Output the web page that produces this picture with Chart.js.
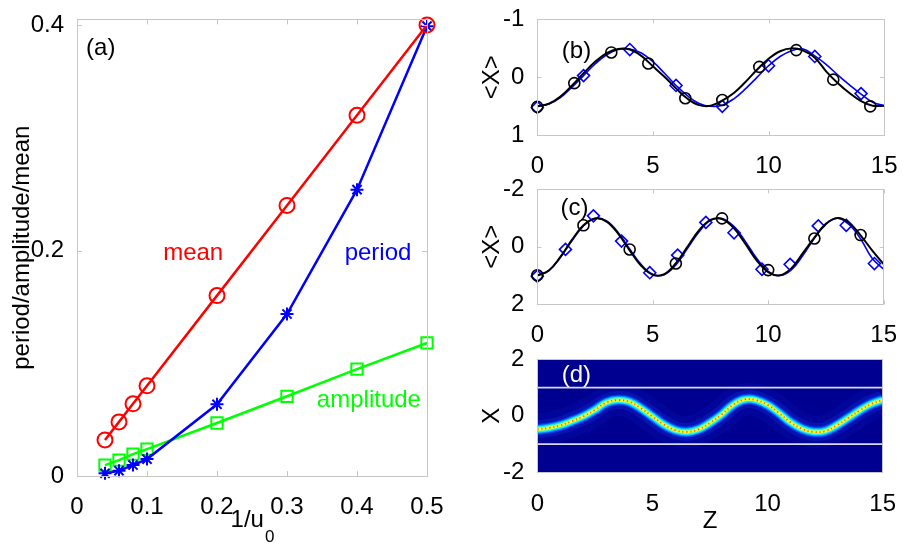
<!DOCTYPE html>
<html>
<head>
<meta charset="utf-8">
<script src="https://cdn.jsdelivr.net/npm/chart.js@4.4.1/dist/chart.umd.min.js"></script>
<style>
  html, body { margin: 0; padding: 0; background: #fff; }
  #wrap { position: relative; width: 906px; height: 544px; overflow: hidden; }
  canvas { position: absolute; }
</style>
</head>
<body>
<div id="wrap">
  <canvas id="panelA" width="470" height="544" style="left:0;top:0"></canvas>
  <canvas id="panelB" width="436" height="180" style="left:470px;top:0"></canvas>
  <canvas id="panelC" width="436" height="180" style="left:470px;top:170px"></canvas>
  <canvas id="panelD" width="436" height="204" style="left:470px;top:340px"></canvas>
</div>
<script>
// (a) period / amplitude / mean against 1/u0
const invU0 = [0.04, 0.06, 0.08, 0.1, 0.2, 0.3, 0.4, 0.5];
const meanVals = [0.032, 0.048, 0.064, 0.080, 0.160, 0.240, 0.320, 0.400];
const periodVals = [0.0024, 0.0047, 0.0097, 0.015, 0.0636, 0.1437, 0.254, 0.399];
const amplitudeVals = [0.0097, 0.0141, 0.0194, 0.0238, 0.047, 0.0707, 0.0948, 0.118];
const aXTicks = [0, 0.1, 0.2, 0.3, 0.4, 0.5];
const aYTicks = [0, 0.2, 0.4];

// z samples shared by the curves in (b), (c), (d)
const zLine = [0, 0.5, 1, 1.5, 2, 2.5, 3, 3.5, 4, 4.5, 5, 5.5, 6, 6.5, 7, 7.5,
               8, 8.5, 9, 9.5, 10, 10.5, 11, 11.5, 12, 12.5, 13, 13.5, 14, 14.5, 15];
const zTicks = [0, 5, 10, 15];

// (b)
const bBlack = [0.50, 0.455, 0.33, 0.14, -0.07, -0.27, -0.42, -0.49, -0.48, -0.37, -0.19, -0.01, 0.19, 0.37, 0.48, 0.49,
                0.40, 0.27, 0.08, -0.13, -0.32, -0.45, -0.50, -0.46, -0.34, -0.10, 0.10, 0.27, 0.41, 0.49, 0.49];
const bBlue = [0.50, 0.46, 0.35, 0.17, -0.03, -0.23, -0.39, -0.48, -0.49, -0.42, -0.27, -0.07, 0.14, 0.32, 0.45, 0.50,
               0.48, 0.37, 0.20, 0.00, -0.20, -0.36, -0.46, -0.49, -0.37, -0.22, -0.04, 0.13, 0.29, 0.43, 0.49];
const bCircleZ = [0, 1.6, 3.2, 4.8, 6.4, 8.0, 9.6, 11.2, 12.8, 14.4];
const bCircleX = [0.51, 0.10, -0.43, -0.24, 0.36, 0.39, -0.18, -0.47, 0.04, 0.50];
const bDiamondZ = [0, 2, 4, 6, 8, 10, 12, 14];
const bDiamondX = [0.52, -0.03, -0.48, 0.14, 0.50, -0.20, -0.36, 0.28];
const bYTicks = [-1, 0, 1];

// (c)
const cBlack = [1.00, 0.82, 0.35, -0.24, -0.75, -0.99, -0.88, -0.46, 0.12, 0.66, 0.97, 0.95, 0.57, 0.00, -0.57, -0.94,
                -0.97, -0.66, -0.12, 0.47, 0.88, 0.99, 0.75, 0.22, -0.32, -0.80, -1.00, -0.84, -0.40, 0.12, 0.60];
const cBlue = [1.00, 0.83, 0.37, -0.21, -0.73, -0.99, -0.90, -0.50, 0.07, 0.62, 0.96, 0.97, 0.63, 0.06, -0.52, -0.92,
               -0.99, -0.72, -0.20, 0.40, 0.85, 1.00, 0.80, 0.30, -0.30, -0.80, -1.00, -0.78, -0.28, 0.40, 0.78];
const cCircleZ = [0, 2, 4, 6, 8, 10, 12, 14];
const cCircleX = [0.99, -0.75, 0.09, 0.58, -0.99, 0.81, -0.29, -0.41];
const cDiamondZ = [0, 1.22, 2.43, 3.65, 4.87, 6.08, 7.3, 8.52, 9.73, 10.95, 12.17, 13.38, 14.6];
const cDiamondX = [1.02, 0.09, -1.08, -0.2, 0.9, 0.29, -0.85, -0.49, 0.78, 0.61, -0.73, -0.75, 0.58];
const cYTicks = [-2, 0, 2];

// (d) beam centre and the two guide lines
const dBeam = [-0.48, -0.43, -0.34, -0.19, -0.02, 0.21, 0.47, 0.56, 0.50, 0.27, -0.02, -0.31, -0.51, -0.57, -0.48, -0.25,
               0.04, 0.39, 0.58, 0.56, 0.39, 0.10, -0.23, -0.46, -0.57, -0.54, -0.34, -0.08, 0.19, 0.42, 0.56];
const dGuideZ = [0, 15];
const dGuideX = [1, -1];
const dYTicks = [-2, 0, 2];

const FONT = '"Liberation Sans", Arial, Helvetica, sans-serif';
Chart.defaults.font.family = FONT;
Chart.defaults.font.size = 24;
Chart.defaults.color = '#000';

const pts = (xs, ys) => xs.map((x, i) => ({ x, y: ys[i] }));
const fixedTicks = vals => s => { s.ticks = vals.map(v => ({ value: v })); };

// MATLAB style box with inward ticks
function frame(len) {
  return {
    id: 'frame',
    afterDatasetsDraw(chart) {
      const { ctx, chartArea: a, scales: { x, y } } = chart;
      ctx.save();
      ctx.strokeStyle = '#c6c6c6';
      ctx.lineWidth = 1;
      ctx.beginPath();
      x.ticks.forEach(t => {
        const p = Math.round(x.getPixelForValue(t.value)) + 0.5;
        ctx.moveTo(p, a.bottom); ctx.lineTo(p, a.bottom - len);
        ctx.moveTo(p, a.top); ctx.lineTo(p, a.top + len);
      });
      y.ticks.forEach(t => {
        const p = Math.round(y.getPixelForValue(t.value)) + 0.5;
        ctx.moveTo(a.left, p); ctx.lineTo(a.left + len, p);
        ctx.moveTo(a.right, p); ctx.lineTo(a.right - len, p);
      });
      ctx.stroke();
      ctx.strokeRect(Math.round(a.left) + 0.5, Math.round(a.top) + 0.5,
                     Math.round(a.right - a.left), Math.round(a.bottom - a.top));
      ctx.restore();
    }
  };
}

// text placed at data coordinates
function notes(items) {
  return {
    id: 'notes',
    afterDraw(chart) {
      const { ctx, scales: { x, y } } = chart;
      ctx.save();
      ctx.font = '24px ' + FONT;
      ctx.textBaseline = 'alphabetic';
      items.forEach(n => {
        ctx.fillStyle = n.color || '#000';
        ctx.textAlign = n.align || 'left';
        ctx.fillText(n.text, x.getPixelForValue(n.x), y.getPixelForValue(n.y));
      });
      ctx.restore();
    }
  };
}

// heat map background for (d)
const darkField = {
  id: 'darkField',
  beforeDatasetsDraw(chart) {
    const { ctx, chartArea: a } = chart;
    ctx.save();
    ctx.fillStyle = '#000090';
    ctx.fillRect(a.left, a.top, a.right - a.left, a.bottom - a.top);
    ctx.restore();
  }
};

// x label 1/u0 with subscript
const invULabel = {
  id: 'invULabel',
  afterDraw(chart) {
    const { ctx, chartArea: a } = chart;
    ctx.save();
    ctx.fillStyle = '#000';
    ctx.textBaseline = 'alphabetic';
    ctx.textAlign = 'left';
    ctx.font = '24px ' + FONT;
    const w1 = ctx.measureText('1/u').width;
    ctx.font = '17px ' + FONT;
    const w2 = ctx.measureText('0').width;
    const x0 = (a.left + a.right) / 2 - (w1 + w2) / 2;
    ctx.font = '24px ' + FONT;
    ctx.fillText('1/u', x0, a.bottom + 51);
    ctx.font = '17px ' + FONT;
    ctx.fillText('0', x0 + w1 + 1, a.bottom + 66);
    ctx.restore();
  }
};

function xAxis(min, max, ticks, height, pad, title) {
  return {
    type: 'linear', min, max,
    afterBuildTicks: fixedTicks(ticks),
    afterFit: s => { s.height = height; },
    grid: { display: false }, border: { display: false },
    ticks: { padding: pad, maxRotation: 0, autoSkip: false, callback: v => String(v) },
    title: title ? { display: true, text: title, padding: { bottom: 8 } } : { display: false }
  };
}

function yAxis(min, max, ticks, width, reverse, title) {
  return {
    type: 'linear', min, max, reverse,
    afterBuildTicks: fixedTicks(ticks),
    afterFit: s => { s.width = width; },
    grid: { display: false }, border: { display: false },
    ticks: { padding: 5, autoSkip: false, callback: v => String(v) },
    title: { display: true, text: title, padding: { top: 7.6, bottom: 0 } }
  };
}

// first dataset in a list is drawn on top
const line = (xs, ys, color, width) => ({
  data: pts(xs, ys), showLine: true, borderColor: color, borderWidth: width,
  pointRadius: 0, tension: 0.4, clip: 0
});
const marks = (xs, ys, color, style, r) => ({
  data: pts(xs, ys), showLine: false, pointStyle: style, pointRadius: r,
  pointBorderColor: color, pointBackgroundColor: 'rgba(0,0,0,0)', pointBorderWidth: 1.6, clip: false
});

const common = {
  responsive: false, animation: false, events: [],
  plugins: { legend: { display: false }, tooltip: { enabled: false } }
};

// (a)
new Chart(document.getElementById('panelA'), {
  type: 'scatter',
  data: {
    datasets: [
      { data: pts(invU0, meanVals), showLine: true, borderColor: '#ff0000', borderWidth: 2.5, tension: 0,
        pointStyle: 'circle', pointRadius: 7.5, pointBorderWidth: 2, pointBorderColor: '#ff0000',
        pointBackgroundColor: 'rgba(0,0,0,0)', clip: false },
      { data: pts(invU0, periodVals), showLine: true, borderColor: '#0000ff', borderWidth: 2.5, tension: 0,
        pointStyle: 'star', pointRadius: 6.5, pointBorderWidth: 2, pointBorderColor: '#0000ff', clip: false },
      { data: pts(invU0, amplitudeVals), showLine: true, borderColor: '#00ff00', borderWidth: 2.5, tension: 0,
        pointStyle: 'rect', pointRadius: 8, pointBorderWidth: 2, pointBorderColor: '#00ff00',
        pointBackgroundColor: 'rgba(0,0,0,0)', clip: false }
    ]
  },
  options: {
    ...common,
    layout: { padding: { left: 0, top: 17, right: 43, bottom: 0 } },
    scales: {
      x: xAxis(0, 0.5, aXTicks, 68, 8.5, null),
      y: yAxis(0, 0.405, aYTicks, 77, false, 'period/amplitude/mean')
    }
  },
  plugins: [frame(5), invULabel, notes([
    { text: '(a)', x: 0.013, y: 0.373 },
    { text: 'mean', x: 0.166, y: 0.1914, color: '#ff0000', align: 'center' },
    { text: 'period', x: 0.43, y: 0.1914, color: '#0000ff', align: 'center' },
    { text: 'amplitude', x: 0.417, y: 0.0611, color: '#00ff00', align: 'center' }
  ])]
});

// (b)
new Chart(document.getElementById('panelB'), {
  type: 'scatter',
  data: {
    datasets: [
      marks(bCircleZ, bCircleX, '#000000', 'circle', 5.5),
      line(zLine, bBlack, '#000000', 2),
      marks(bDiamondZ, bDiamondX, '#0000ff', 'rectRot', 6),
      line(zLine, bBlue, '#0000ff', 1.6)
    ]
  },
  options: {
    ...common,
    layout: { padding: { left: 0, top: 19.3, right: 19.3, bottom: 0 } },
    scales: {
      x: xAxis(0, 15, zTicks, 44.7, 8.5, null),
      y: yAxis(-1, 1, bYTicks, 67.3, true, '<X>')
    }
  },
  plugins: [frame(4), notes([{ text: '(b)', x: 1.06, y: -0.33 }])]
});

// (c)
new Chart(document.getElementById('panelC'), {
  type: 'scatter',
  data: {
    datasets: [
      marks(cCircleZ, cCircleX, '#000000', 'circle', 5.5),
      line(zLine, cBlack, '#000000', 2),
      marks(cDiamondZ, cDiamondX, '#0000ff', 'rectRot', 6),
      line(zLine, cBlue, '#0000ff', 1.6)
    ]
  },
  options: {
    ...common,
    layout: { padding: { left: 0, top: 19, right: 19.3, bottom: 0 } },
    scales: {
      x: xAxis(0, 15, zTicks, 45.7, 9, null),
      y: yAxis(-2, 2, cYTicks, 67.3, true, '<X>')
    }
  },
  plugins: [frame(4), notes([{ text: '(c)', x: 1.0, y: -1.1 }])]
});

// (d) beam layers, core first so it lands on top
const beam = (color, width, dash) => ({
  data: pts(zLine, dBeam), showLine: true, borderColor: color, borderWidth: width,
  borderDash: dash || [], pointRadius: 0, tension: 0.4, clip: 0
});
new Chart(document.getElementById('panelD'), {
  type: 'scatter',
  data: {
    datasets: [
      { data: pts(dGuideZ, [dGuideX[0], dGuideX[0]]), showLine: true, borderColor: '#d8d8e8',
        borderWidth: 1.6, pointRadius: 0, clip: 0 },
      { data: pts(dGuideZ, [dGuideX[1], dGuideX[1]]), showLine: true, borderColor: '#d8d8e8',
        borderWidth: 1.6, pointRadius: 0, clip: 0 },
      beam('#ff6400', 1.8, [1.2, 2.8]),
      beam('#e8ff30', 2.6),
      beam('#80ffa0', 4),
      beam('#10e8ff', 6.5),
      beam('#0090ff', 8.5),
      beam('#0038ea', 11),
      beam('rgba(20,50,230,0.3)', 18),
      beam('rgba(20,40,220,0.12)', 32)
    ]
  },
  options: {
    ...common,
    layout: { padding: { left: 0, top: 16.7, right: 19.3, bottom: 0 } },
    scales: {
      x: xAxis(0, 15, zTicks, 71.7, 10, 'Z'),
      y: yAxis(-2, 2, dYTicks, 67.3, false, 'X')
    }
  },
  plugins: [darkField, frame(0), notes([{ text: '(d)', x: 1.06, y: 1.19, color: '#ffffff' }])]
});
</script>
</body>
</html>
